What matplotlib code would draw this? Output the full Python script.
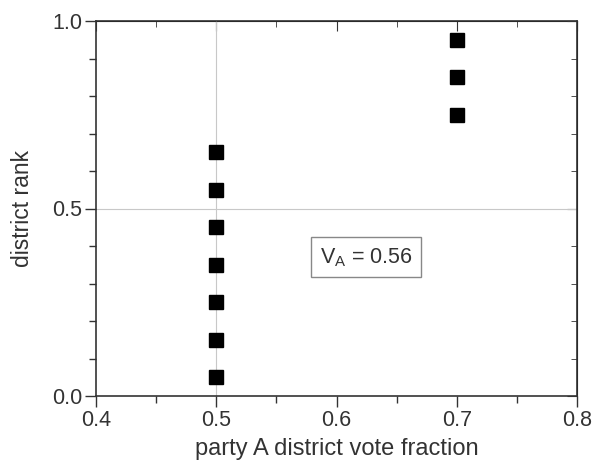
import matplotlib
matplotlib.use("Agg")
import matplotlib.pyplot as plt
from matplotlib.ticker import MultipleLocator, FuncFormatter

plt.rcParams['font.family'] = ['Liberation Sans', 'DejaVu Sans']

x_low = [0.5, 0.5, 0.5, 0.5, 0.5, 0.5, 0.5]
y_low = [0.05, 0.15, 0.25, 0.35, 0.45, 0.55, 0.65]
x_high = [0.7, 0.7, 0.7]
y_high = [0.75, 0.85, 0.95]
vote_share_label = "V$_\\mathregular{A}$ = 0.56"

TXT = '#333333'
fig = plt.figure(figsize=(5.96, 4.62), dpi=100)
ax = fig.add_axes([96/596, 1-396/462, (577-96)/596, (396-21)/462])

ax.axvline(0.5, color='#c8c8c8', lw=0.8, zorder=1)
ax.axhline(0.5, color='#c8c8c8', lw=0.8, zorder=1)

ax.plot(x_low + x_high, y_low + y_high, linestyle='none', marker='s',
        markersize=10, color='black', zorder=3)

ax.set_xlim(0.4, 0.8)
ax.set_ylim(0.0, 1.0)
ax.xaxis.set_major_locator(MultipleLocator(0.1))
ax.xaxis.set_minor_locator(MultipleLocator(0.05))
ax.yaxis.set_major_locator(MultipleLocator(0.5))
ax.yaxis.set_minor_locator(MultipleLocator(0.1))
ax.xaxis.set_major_formatter(FuncFormatter(lambda v, p: f"{v:g}"))
ax.yaxis.set_major_formatter(FuncFormatter(lambda v, p: f"{v:.1f}"))

ax.tick_params(axis='both', which='major', direction='out', length=8, width=1,
               labelsize=15.5, colors=TXT, labelcolor=TXT, pad=2)
ax.tick_params(axis='both', which='minor', direction='out', length=5, width=1, colors=TXT)

# mirrored inward ticks on top and right
axt = ax.secondary_xaxis('top')
axt.xaxis.set_major_locator(MultipleLocator(0.1))
axt.xaxis.set_minor_locator(MultipleLocator(0.05))
axt.tick_params(which='major', direction='in', length=7, labeltop=False, colors=TXT)
axt.tick_params(which='minor', direction='in', length=4, colors=TXT)
axr = ax.secondary_yaxis('right')
axr.yaxis.set_major_locator(MultipleLocator(0.5))
axr.yaxis.set_minor_locator(MultipleLocator(0.1))
axr.tick_params(which='major', direction='in', length=7, labelright=False, colors=TXT)
axr.tick_params(which='minor', direction='in', length=4, colors=TXT)

for s in ax.spines.values():
    s.set_color(TXT)
    s.set_linewidth(1.2)

ax.set_xlabel("party A district vote fraction", fontsize=17, color=TXT, labelpad=5)
ax.set_ylabel("district rank", fontsize=16.5, color=TXT, labelpad=13)

ax.text(0.6245, 0.37, vote_share_label, fontsize=15.5, color=TXT,
        ha='center', va='center',
        bbox=dict(boxstyle='square,pad=0.4', facecolor='white', edgecolor='#888888', lw=1))

fig.savefig("out.png", dpi=100)
